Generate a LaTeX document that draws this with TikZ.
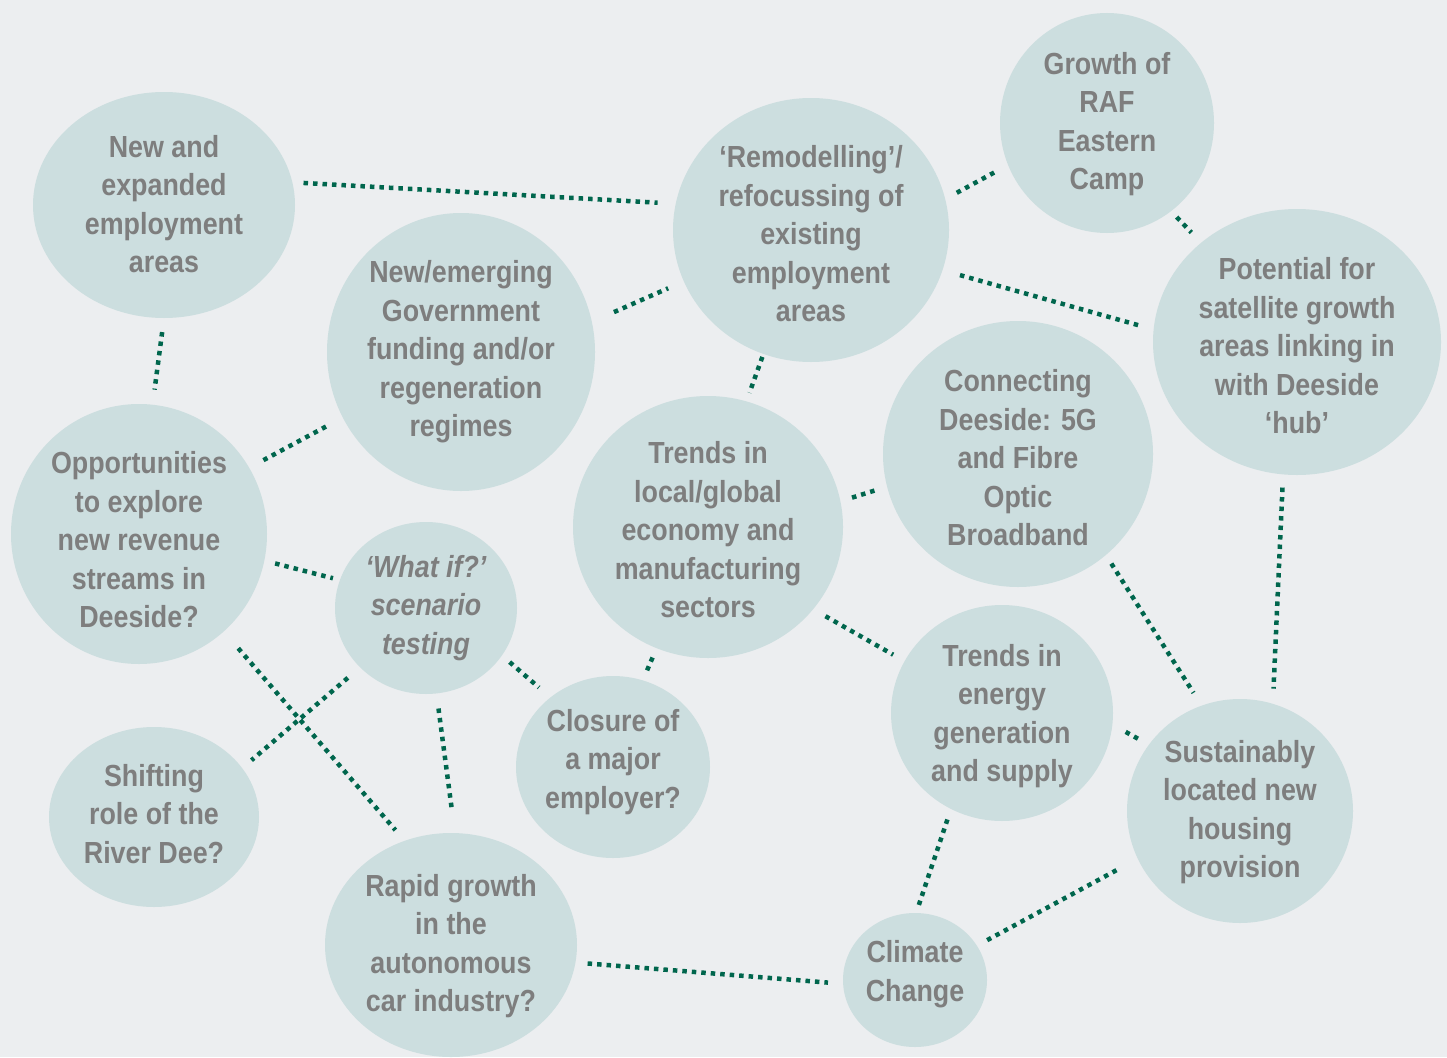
\documentclass[tikz,border=0pt]{standalone}
\usepackage{fontspec}
\newfontfamily\condfont{Liberation Sans}[FakeStretch=0.88]
\usetikzlibrary{shapes.geometric}
\definecolor{bgpanel}{HTML}{ECEEF0}
\definecolor{bubblefill}{HTML}{CCDEDF}
\definecolor{labelgray}{HTML}{7E7E7E}
\definecolor{linkgreen}{HTML}{00664D}
\newcommand\bubblesize{\fontsize{30.5}{38.5}\selectfont}

\begin{document}
\begin{tikzpicture}[x=1pt,y=-1pt,
	bubble/.style={ellipse, fill=bubblefill, inner sep=0pt},
	txt/.style={align=center, text=labelgray, inner sep=0pt, yshift=-2pt, font=\condfont\bfseries\bubblesize},
	txtit/.style={txt, font=\condfont\bfseries\itshape\bubblesize},
	link/.style={linkgreen, line width=4.5pt, dash pattern=on 4.5pt off 5pt}]
			\fill[bgpanel] (0,0) rectangle (1447,1057);
			\useasboundingbox (0,0) rectangle (1447,1057);
			\node[bubble, minimum width=262, minimum height=226] (newemp) at (164,205) {};
			\node[bubble, minimum width=276, minimum height=264] (remodel) at (811,230) {};
			\node[bubble, minimum width=214, minimum height=220] (raf) at (1107,123) {};
			\node[bubble, minimum width=288, minimum height=266] (satellite) at (1297,342) {};
			\node[bubble, minimum width=268, minimum height=278] (govfund) at (461,352) {};
			\node[bubble, minimum width=256, minimum height=260] (revenue) at (139,534) {};
			\node[bubble, minimum width=270, minimum height=262] (trends) at (708,527) {};
			\node[bubble, minimum width=270, minimum height=266] (fibre) at (1018,454) {};
			\node[bubble, minimum width=182, minimum height=172] (whatif) at (426,608) {};
			\node[bubble, minimum width=194, minimum height=182] (closure) at (613,767) {};
			\node[bubble, minimum width=222, minimum height=216] (energy) at (1002,713) {};
			\node[bubble, minimum width=226, minimum height=224] (housing) at (1240,811) {};
			\node[bubble, minimum width=210, minimum height=180] (riverdee) at (154,817) {};
			\node[bubble, minimum width=252, minimum height=224] (autocar) at (451,945) {};
			\node[bubble, minimum width=144, minimum height=134] (climate) at (915,980) {};
			\node[txt] (newemp-t) at (164,202) {New and\\expanded\\employment\\areas};
			\node[txt] (remodel-t) at (811,232) {‘Remodelling’/\\refocussing of\\existing\\employment\\areas};
			\node[txt] (raf-t) at (1107,122) {Growth of\\RAF\\Eastern\\Camp};
			\node[txt] (satellite-t) at (1297,344) {Potential for\\satellite growth\\areas linking in\\with Deeside\\‘hub’};
			\node[txt] (govfund-t) at (461,350) {New/emerging\\Government\\funding and/or\\regeneration\\regimes};
			\node[txt] (revenue-t) at (139,538) {Opportunities\\to explore\\new revenue\\streams in\\Deeside?};
			\node[txt] (trends-t) at (708,528) {Trends in\\local/global\\economy and\\manufacturing\\sectors};
			\node[txt] (fibre-t) at (1018,456) {Connecting\\Deeside: 5G\\and Fibre\\Optic\\Broadband};
			\node[txtit] (whatif-t) at (426,606) {‘What if?’\\scenario\\testing};
			\node[txt] (closure-t) at (613,760) {Closure of\\a major\\employer?};
			\node[txt] (energy-t) at (1002,714) {Trends in\\energy\\generation\\and supply};
			\node[txt] (housing-t) at (1240,810) {Sustainably\\located new\\housing\\provision};
			\node[txt] (riverdee-t) at (154,812) {Shifting\\role of the\\River Dee?};
			\node[txt] (autocar-t) at (451,944) {Rapid growth\\in the\\autonomous\\car industry?};
			\node[txt] (climate-t) at (915,972) {Climate\\Change};
			\draw[link, shorten <=11pt, shorten >=18pt] (newemp.10) -- (remodel.169);
			\draw[link, shorten <=13pt, shorten >=12pt] (remodel.13) -- (raf.203);
			\draw[link, shorten <=8pt, shorten >=14pt] (raf.306) -- (satellite.134);
			\draw[link, shorten <=18pt, shorten >=14pt] (remodel.343) -- (satellite.175);
			\draw[link, shorten <=24pt, shorten >=17pt] (govfund.13) -- (remodel.202);
			\draw[link, shorten <=14pt, shorten >=15pt] (newemp.270) -- (revenue.84);
			\draw[link, shorten <=16pt, shorten >=14pt] (revenue.31) -- (govfund.209);
			\draw[link, shorten <=3pt, shorten >=9pt] (remodel.249) -- (trends.73);
			\draw[link, shorten <=12pt, shorten >=10pt] (trends.11) -- (fibre.194);
			\draw[link, shorten <=11pt, shorten >=7pt] (revenue.348) -- (whatif.162);
			\draw[link, shorten <=10pt, shorten >=15pt] (whatif.328) -- (closure.132);
			\draw[link, shorten <=10pt, shorten >=9pt] (trends.247) -- (closure.71);
			\draw[link, shorten <=14pt, shorten >=13pt] (trends.322) -- (energy.152);
			\draw[link, shorten <=10pt, shorten >=15pt] (fibre.311) -- (housing.110);
			\draw[link, shorten <=13pt, shorten >=15pt] (satellite.264) -- (housing.73);
			\draw[link, shorten <=15pt, shorten >=12pt] (energy.354) -- (housing.144);
			\draw[link, shorten <=16pt, shorten >=12pt] (whatif.222) -- (riverdee.29);
			\draw[link, shorten <=22pt, shorten >=14pt] (revenue.311) -- (autocar.114);
			\draw[link, shorten <=15pt, shorten >=25pt] (whatif.277) -- (autocar.88);
			\draw[link, shorten <=11pt, shorten >=8pt] (energy.242) -- (climate.89);
			\draw[link, shorten <=24pt, shorten >=9pt] (housing.205) -- (climate.29);
			\draw[link, shorten <=12pt, shorten >=15pt] (autocar.352) -- (climate.183);
		\end{tikzpicture}
\end{document}
